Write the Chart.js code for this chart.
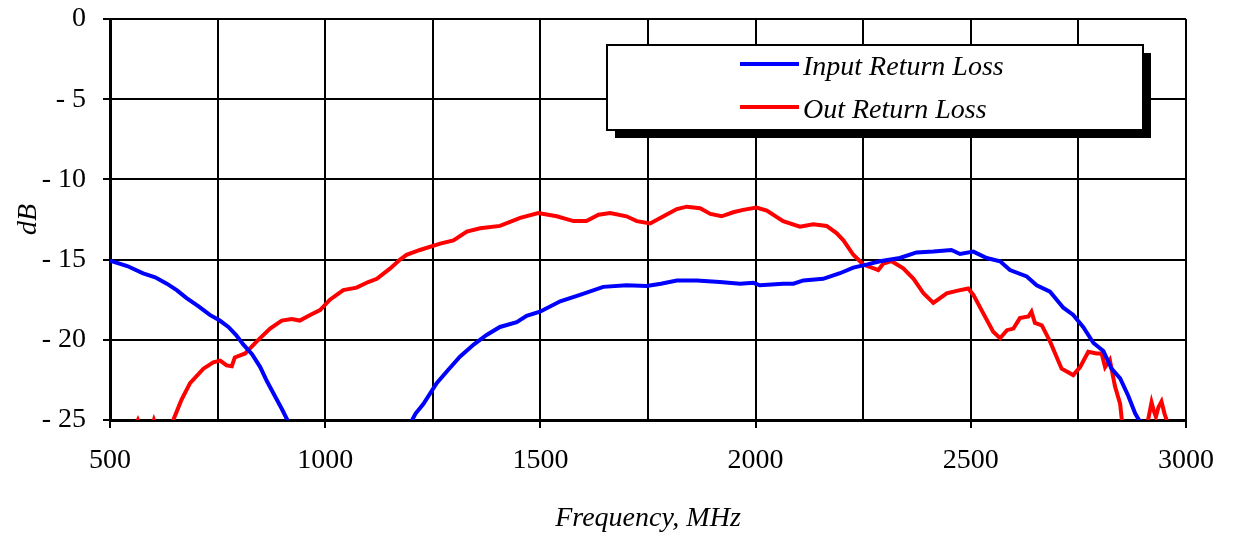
<!DOCTYPE html>
<html>
<head>
<meta charset="utf-8">
<script src="https://cdn.jsdelivr.net/npm/chart.js@4/dist/chart.umd.min.js"></script>
<style>
    body { margin: 0; background: #fff; }
    #chart { display: block; }
</style>
</head>
<body>
<canvas id="chart" width="1233" height="539"></canvas>
<script>
// Input Return Loss (blue), MHz / dB, null = below the -25 floor
const input_freq = [500, 540, 577, 605, 632, 655, 678, 705, 732, 755, 775, 793, 810, 830, 849, 865, 879, 899, 914,
    1050,
    1200, 1210, 1228, 1259, 1285, 1313, 1345, 1375, 1406, 1445, 1468, 1499, 1546, 1592, 1646, 1700, 1747, 1780,
    1817, 1863, 1917, 1964, 1995, 2010, 2064, 2088, 2111, 2157, 2196, 2227, 2260, 2289, 2335, 2374, 2413, 2455,
    2475, 2506, 2537, 2568, 2591, 2630, 2653, 2684, 2715, 2738, 2761, 2785, 2808, 2827, 2847, 2866, 2882, 2893];
const input_db = [-15.07, -15.4, -15.86, -16.1, -16.5, -16.9, -17.4, -17.9, -18.45, -18.8, -19.2, -19.7, -20.3, -20.9, -21.7, -22.6, -23.3, -24.3, -25.1,
    null,
    -25.1, -24.6, -24.0, -22.7, -21.9, -21.05, -20.3, -19.7, -19.2, -18.9, -18.5, -18.25, -17.6, -17.2, -16.7, -16.6, -16.65, -16.5,
    -16.3, -16.3, -16.4, -16.5, -16.45, -16.6, -16.5, -16.5, -16.3, -16.2, -15.85, -15.5, -15.3, -15.1, -14.9, -14.55, -14.5, -14.4,
    -14.65, -14.5, -14.9, -15.1, -15.65, -16.05, -16.6, -17.0, -18.0, -18.45, -19.2, -20.2, -20.7, -21.8, -22.4, -23.5, -24.6, -25.1];

// Out Return Loss (red)
const out_freq = [555, 565, 575, 595, 602, 610, 640, 647, 666, 686, 717, 740, 756, 771, 783, 790, 814, 841, 872, 899,
    922, 941, 965, 988, 1011, 1042, 1073, 1100, 1120, 1151, 1174, 1189, 1220, 1267, 1298, 1329, 1360, 1406, 1453, 1495,
    1538, 1577, 1607, 1635, 1662, 1700, 1724, 1755, 1786, 1817, 1840, 1871, 1895, 1921, 1948, 1971, 2002, 2026, 2064, 2103,
    2134, 2165, 2188, 2204, 2227, 2250, 2270, 2285, 2297, 2316, 2343, 2367, 2390, 2413, 2444, 2467, 2494, 2506, 2529, 2552,
    2568, 2584, 2599, 2614, 2634, 2641, 2649, 2665, 2684, 2711, 2738, 2754, 2773, 2792, 2804, 2812, 2823, 2835, 2847, 2853,
    2880,
    2905, 2912, 2920, 2926, 2930, 2936, 2943, 2950, 2955, 2960];
const out_db = [-25.6, -25.0, -25.6, -25.6, -25.0, -25.6, -25.5, -25.0, -23.75, -22.7, -21.8, -21.4, -21.3, -21.6, -21.65, -21.1, -20.85, -20.1, -19.3, -18.8,
    -18.7, -18.8, -18.45, -18.15, -17.5, -16.9, -16.75, -16.4, -16.2, -15.55, -15.0, -14.7, -14.4, -14.0, -13.8, -13.25, -13.05, -12.9, -12.4, -12.1,
    -12.3, -12.6, -12.6, -12.2, -12.1, -12.3, -12.6, -12.75, -12.3, -11.85, -11.7, -11.8, -12.15, -12.3, -12.05, -11.9, -11.75, -11.95, -12.6, -12.95,
    -12.8, -12.9, -13.35, -13.8, -14.7, -15.3, -15.5, -15.65, -15.25, -15.1, -15.55, -16.2, -17.1, -17.7, -17.1, -16.95, -16.8, -17.2, -18.35, -19.5,
    -19.9, -19.4, -19.3, -18.65, -18.55, -18.25, -18.95, -19.1, -20.1, -21.8, -22.2, -21.7, -20.75, -20.85, -20.85, -21.7, -21.25, -22.9, -24.0, -25.5,
    null,
    -25.5, -25.0, -23.9, -24.5, -24.8, -24.2, -23.85, -24.6, -25.0, -25.5];

const series_names = ["Input Return Loss", "Out Return Loss"];
const series_colors = ["#0000ff", "#ff0000"];
const y_ticks = [0, -5, -10, -15, -20, -25];
const x_labels = [500, 1000, 1500, 2000, 2500, 3000];

const serif = "'Liberation Serif', 'Times New Roman', serif";

function toPoints(xs, ys) {
    let pts = [];
    for (let i = 0; i < xs.length; i++) {
        pts.push({x: xs[i], y: ys[i]});
    }
    return pts;
}

// boxed legend with a drop shadow, drawn over the grid
const boxLegend = {
    id: "boxLegend",
    afterDraw(chart) {
        let ctx = chart.ctx;
        let x0 = 607, y0 = 45, w = 536, h = 85;
        ctx.save();
        ctx.fillStyle = "#000";
        ctx.fillRect(x0 + 8, y0 + 8, w, h);
        ctx.fillStyle = "#fff";
        ctx.fillRect(x0, y0, w, h);
        ctx.strokeStyle = "#000";
        ctx.lineWidth = 2;
        ctx.strokeRect(x0, y0, w, h);
        ctx.font = "italic 28px " + serif;
        ctx.textBaseline = "middle";
        let rows = [66, 109];
        for (let i = 0; i < series_names.length; i++) {
            ctx.strokeStyle = series_colors[i];
            ctx.lineWidth = 4;
            ctx.beginPath();
            ctx.moveTo(740, rows[i] - 2);
            ctx.lineTo(799, rows[i] - 2);
            ctx.stroke();
            ctx.fillStyle = "#000";
            ctx.fillText(series_names[i], 803, rows[i] + 2);
        }
        ctx.restore();
    }
};

const ctx = document.getElementById("chart").getContext("2d");
new Chart(ctx, {
    type: "line",
    data: {
        datasets: [
            {label: series_names[0], data: toPoints(input_freq, input_db), borderColor: series_colors[0]},
            {label: series_names[1], data: toPoints(out_freq, out_db), borderColor: series_colors[1]}
        ]
    },
    options: {
        responsive: false,
        animation: false,
        layout: {padding: {top: 19, right: 47, left: 0, bottom: 0}},
        elements: {
            line: {borderWidth: 4, tension: 0, fill: false},
            point: {radius: 0}
        },
        plugins: {
            legend: {display: false},
            tooltip: {enabled: false}
        },
        scales: {
            x: {
                type: "linear",
                min: 500,
                max: 3000,
                afterFit: function(scale) {
                    scale.height = 119;
                    scale.paddingLeft = 0;
                    scale.paddingRight = 0;
                },
                border: {color: "#000", width: 3},
                grid: {
                    color: "#000",
                    lineWidth: 2,
                    tickLength: 8,
                    tickColor: function(c) { return x_labels.includes(c.tick.value) ? "#000" : "rgba(0,0,0,0)"; }
                },
                ticks: {
                    stepSize: 250,
                    autoSkip: false,
                    maxRotation: 0,
                    padding: 16,
                    color: "#000",
                    font: {family: serif, size: 28},
                    callback: function(v) { return x_labels.includes(v) ? String(v) : ""; }
                },
                title: {
                    display: true,
                    text: "Frequency, MHz",
                    color: "#000",
                    font: {family: serif, size: 28, style: "italic"},
                    padding: {top: 0, bottom: 4}
                }
            },
            y: {
                min: -25,
                max: 0,
                afterFit: function(scale) {
                    scale.width = 110;
                    scale.paddingTop = 0;
                    scale.paddingBottom = 0;
                },
                afterBuildTicks: function(scale) {
                    scale.ticks = y_ticks.map(function(v) { return {value: v}; });
                },
                border: {color: "#000", width: 3},
                grid: {color: "#000", lineWidth: 2, tickLength: 7, tickColor: "#000"},
                ticks: {
                    padding: 17,
                    color: "#000",
                    font: {family: serif, size: 28},
                    callback: function(v) { return v === 0 ? "0" : "- " + Math.abs(v); }
                },
                title: {
                    display: true,
                    text: "dB",
                    color: "#000",
                    font: {family: serif, size: 28, style: "italic"},
                    padding: {top: 12, bottom: 0}
                }
            }
        }
    },
    plugins: [boxLegend]
});
</script>
</body>
</html>
